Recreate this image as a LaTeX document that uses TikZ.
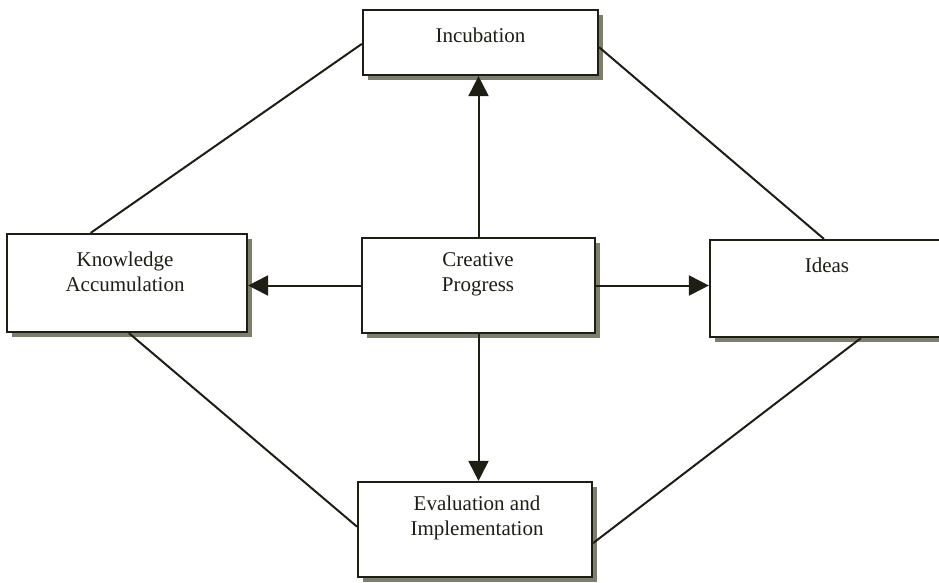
\documentclass[tikz,border=0pt]{standalone}
\usepackage{fontspec}
\setmainfont{Liberation Serif}
\usetikzlibrary{arrows.meta,calc,shadows}
\definecolor{shadowgray}{HTML}{7E7E6C}
\definecolor{ink}{HTML}{1E1E14}
\begin{document}
\begin{tikzpicture}[x=1pt,y=-1pt,
  box/.style={draw=ink, line width=2.2pt, fill=white, rectangle, inner sep=0pt,
    general shadow={fill=shadowgray, shadow xshift=4.5pt, shadow yshift=-4.5pt}},
  lbl/.style={font=\fontsize{21}{25}\selectfont, align=center, text=ink, inner sep=0pt},
  conn/.style={draw=ink, line width=2pt},
  arr/.style={conn, -{Triangle[length=20pt,width=20pt]}}]
\useasboundingbox (0,0) rectangle (939,582);
% boxes
\node[box, minimum width=235pt, minimum height=65pt] (inc) at (480.5,42.5) {};
\node[box, minimum width=240pt, minimum height=98pt] (know) at (127,283) {};
\node[box, minimum width=233pt, minimum height=95pt] (crea) at (478.5,285.5) {};
\node[box, minimum width=234pt, minimum height=97pt] (ideas) at (827,288.5) {};
\node[box, minimum width=234pt, minimum height=95pt] (eval) at (475,529.5) {};
% labels
\node[lbl] (incT) at (480.5,35) {Incubation};
\node[lbl] (knowT) at (125,271.5) {Knowledge\\Accumulation};
\node[lbl] (creaT) at (478,274.5) {Creative\\Progress};
\node[lbl] (ideasT) at (827,265) {Ideas};
\node[lbl] (evalT) at (477,517.5) {Evaluation and\\Implementation};
% diagonal connectors
\draw[conn] ($(inc.north west)!0.52!(inc.south west)$) -- ($(know.north west)!0.35!(know.north east)$);
\draw[conn] ($(inc.north east)!0.57!(inc.south east)$) -- ($(ideas.north west)+(115,0)$);
\draw[conn] ($(know.south west)+(123,0)$) -- ($(eval.north west)!0.47!(eval.south west)$);
\draw[conn] ($(eval.north east)!0.64!(eval.south east)$) -- ($(ideas.south west)+(152,0)$);
% arrows
\draw[arr] (crea.north) -- (crea.north |- inc.south);
\draw[arr] (crea.west) -- (crea.west -| know.east);
\draw[arr] (crea.east) -- (crea.east -| ideas.west);
\draw[arr] (crea.south) -- (crea.south |- eval.north);
\end{tikzpicture}
\end{document}
